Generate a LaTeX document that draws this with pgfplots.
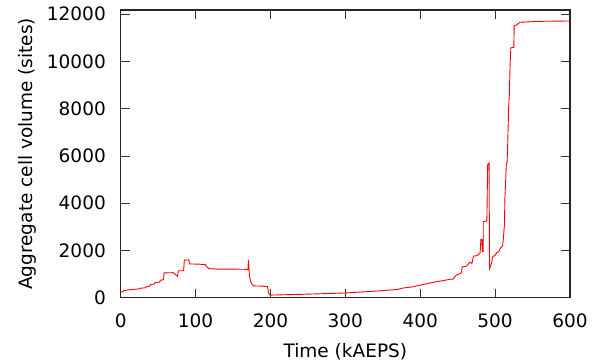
\documentclass[border=0pt]{standalone}
\usepackage{pgfplots}
\pgfplotsset{compat=1.18}
\usepackage{fontspec}
\setmainfont{DejaVu Sans}
\begin{document}
\begin{tikzpicture}
\begin{axis}[
  at={(0,0)}, anchor=south west,
  width=449.3bp, height=287.7bp, scale only axis,
  xmin=0, xmax=600, ymin=0, ymax=12180,
  xtick={0,100,...,600}, ytick={0,2000,...,12000},
  scaled y ticks=false,
  /pgf/number format/1000 sep={},
  /pgf/number format/assume math mode=true,
  tick align=inside,
  major tick length=9bp,
  tick style={line width=0.9bp, black!80},
  axis line style={line width=1.1bp, black!85},
  ticklabel style={font=\fontsize{18.5bp}{22bp}\selectfont, inner sep=0pt},
  xticklabel style={yshift=-16.3bp},
  yticklabel style={xshift=-14.7bp},
  label style={font=\fontsize{18.5bp}{22bp}\selectfont, inner sep=0pt},
  xlabel={Time (kAEPS)},
  ylabel={Aggregate cell volume (sites)},
  xlabel style={at={(axis description cs:0.5,-0.2072)}, anchor=base},
  ylabel style={at={(axis description cs:-0.1963,0.5)}, anchor=base, rotate=0},
]
\addplot[red, line width=0.9bp, mark=none] coordinates {
(0,240) (3,250) (4,300) (10,330) (20,360) (24,370) (26,400) (33,420) (34,460) (38,480)
(40,560) (45,580) (46,640) (52,660) (53,740) (57,760) (58,1050) (70,1060) (72,1010) (74,960)
(76,900) (77,1140) (84,1140) (85,1590) (91,1600) (92,1430) (104,1420) (113,1400) (115,1300) (118,1230)
(130,1210) (150,1210) (170,1200) (170.5,1600) (171,1400) (172,900) (174,640) (177,500) (190,490) (196,470)
(197,300) (198,160) (199,120) (200,110) (250,150) (300,200) (346,290) (370,350) (377,410) (390,460)
(400,530) (410,600) (422,680) (430,720) (440,780) (444,790) (448,950) (455,1050) (456,1300) (462,1340)
(466,1500) (469,1450) (471,1760) (476,1780) (480,1900) (481,2470) (482.5,2450) (483,1950) (484,1950) (484.2,3220)
(489,3250) (490,5620) (492,5700) (492.5,1230) (494,1350) (495.5,1500) (496.5,1720) (500,1800) (502,1900) (505,1960)
(507,2100) (510,2200) (511,2500) (512.5,3100) (513,4140) (515,5650) (516,5700) (517,6700) (518,8000) (519,8600)
(520,9850) (521,10580) (525,10600) (525.5,11520) (529,11550) (533,11660) (560,11700) (600,11715)
};
\end{axis}
\path[use as bounding box] (-120.7bp,-66.3bp) rectangle (481.3bp,297.7bp);
\end{tikzpicture}
\end{document}
